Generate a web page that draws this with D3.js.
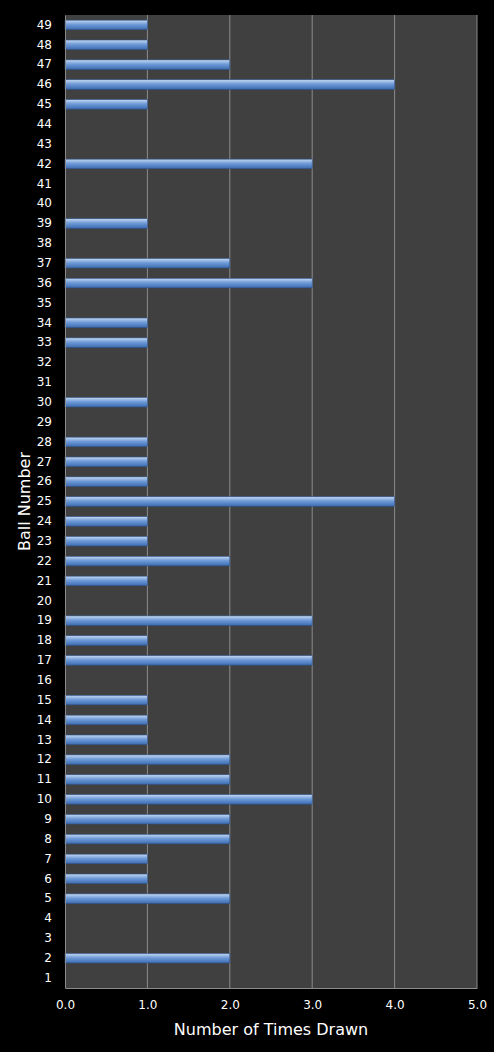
<!DOCTYPE html>
<html lang="en">
<head>
<meta charset="UTF-8">
<title>Ball Number Frequency</title>
<style>
  body { margin: 0; background: #000; font-family: "DejaVu Sans", Arial, sans-serif; }
  svg { display: block; }
</style>
</head>
<body>
<svg id="chart" width="494" height="1052"></svg>
<script src="https://d3js.org/d3.v7.min.js"></script>
<script>
// data
const balls = d3.range(1, 50);
const timesDrawn = [0, 2, 0, 0, 2, 1, 1, 2, 2, 3, 2, 2, 1, 1, 1, 0, 3, 1, 3, 0,
                    1, 2, 1, 1, 4, 1, 1, 1, 0, 1, 0, 0, 1, 1, 0, 3, 2, 0, 1, 0,
                    0, 3, 0, 0, 1, 4, 2, 1, 1];
const xTicks = [0, 1, 2, 3, 4, 5];

const svg = d3.select('#chart');
const plotLeft = 65, plotRight = 477, plotTop = 15, plotBottom = 988;

const x = d3.scaleLinear().domain([0, 5]).range([plotLeft, plotRight]);
const y = d3.scaleBand().domain(balls).range([plotBottom, plotTop]).paddingInner(0.52).paddingOuter(0.26);

// gradient for bars
const defs = svg.append('defs');
const grad = defs.append('linearGradient').attr('id', 'barGrad')
    .attr('x1', 0).attr('y1', 0).attr('x2', 0).attr('y2', 1);
grad.append('stop').attr('offset', '0%').attr('stop-color', '#c6d9f1');
grad.append('stop').attr('offset', '45%').attr('stop-color', '#6f9bd8');
grad.append('stop').attr('offset', '100%').attr('stop-color', '#3d6cb0');

// plot background
svg.append('rect').attr('x', plotLeft).attr('y', plotTop)
    .attr('width', plotRight - plotLeft).attr('height', plotBottom - plotTop)
    .attr('fill', '#404040');

// gridlines
svg.append('g').selectAll('line').data(xTicks.slice(1)).enter().append('line')
    .attr('x1', d => x(d)).attr('x2', d => x(d))
    .attr('y1', plotTop).attr('y2', plotBottom)
    .attr('stroke', '#8a8a8a').attr('stroke-width', 1);

// bars
svg.append('g').selectAll('rect').data(balls.filter((b, i) => timesDrawn[i] > 0)).enter()
    .append('rect')
    .attr('x', x(0))
    .attr('y', d => y(d))
    .attr('width', d => x(timesDrawn[d - 1]) - x(0))
    .attr('height', y.bandwidth())
    .attr('fill', 'url(#barGrad)')
    .attr('stroke', '#2f5590').attr('stroke-width', 0.6);

// axes
const xAxis = svg.append('g').attr('transform', `translate(0,${plotBottom})`)
    .call(d3.axisBottom(x).tickValues(xTicks).tickSize(0).tickPadding(12));
const yAxis = svg.append('g').attr('transform', `translate(${plotLeft},0)`)
    .call(d3.axisLeft(y).tickSize(0).tickPadding(13));
[xAxis, yAxis].forEach(a => {
    a.select('.domain').attr('stroke', '#8a8a8a');
    a.selectAll('text').attr('fill', '#fff').attr('font-size', 12)
        .attr('font-family', '"DejaVu Sans", Arial, sans-serif');
});

// axis titles
svg.append('text').attr('x', (plotLeft + plotRight) / 2).attr('y', 1035)
    .attr('text-anchor', 'middle').attr('fill', '#fff').attr('font-size', 16)
    .text('Number of Times Drawn');
svg.append('text').attr('transform', `translate(30,${(plotTop + plotBottom) / 2}) rotate(-90)`)
    .attr('text-anchor', 'middle').attr('fill', '#fff').attr('font-size', 16)
    .text('Ball Number');
</script>
</body>
</html>
